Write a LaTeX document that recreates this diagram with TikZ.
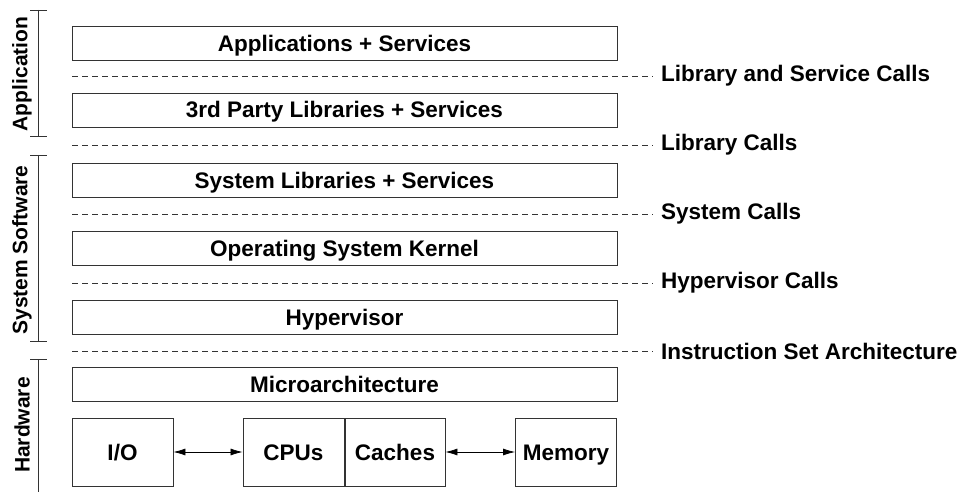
\documentclass[tikz,border=0pt]{standalone}
\usepackage{fontspec}
\setmainfont{Liberation Sans}
\usetikzlibrary{arrows.meta}
\begin{document}
\begin{tikzpicture}[x=1pt,y=-1pt,
  box/.style={draw=black!80,line width=0.9pt,minimum height=34pt,inner sep=0pt,text height=16pt,text depth=0pt,font=\bfseries\fontsize{22.5}{26}\selectfont},
  wide/.style={box,minimum width=545pt},
  small/.style={box,minimum width=101pt,minimum height=68pt},
  sep/.style={draw=black!80,dash pattern=on 6pt off 4pt,line width=0.6pt},
  lbl/.style={anchor=west,inner sep=0pt,font=\bfseries\fontsize{22.5}{26}\selectfont},
  side/.style={rotate=90,font=\bfseries\fontsize{21}{24}\selectfont,inner sep=0pt},
  brk/.style={draw=black!80,line width=0.7pt},
  biarr/.style={{Latex[length=12pt,width=7pt]}-{Latex[length=12pt,width=7pt]},line width=0.7pt}]
\useasboundingbox (0,0) rectangle (961,492);
\node[wide] (app) at (344.5,43.5) {Applications + Services};
\node[wide] (lib3) at (344.5,110) {3rd Party Libraries + Services};
\node[wide] (syslib) at (344.5,180) {System Libraries + Services};
\node[wide] (os) at (344.5,248) {Operating System Kernel};
\node[wide] (hyp) at (344.5,317) {Hypervisor};
\node[wide] (micro) at (344.5,384.5) {Microarchitecture};
\node[small] (io) at (122.5,452) {I/O};
\node[small] (cpu) at (293.5,452) {CPUs};
\node[small,minimum width=100pt] (cache) at (395,452) {Caches};
\node[small] (mem) at (566,452) {Memory};
\draw[biarr] (io.east) -- (cpu.west);
\draw[biarr] (cache.east) -- (mem.west);
% dashed separators
\foreach \y/\t/\n in {76/Library and Service Calls/l1,145/Library Calls/l2,214/System Calls/l3,283/Hypervisor Calls/l4,351/Instruction Set Architecture/l5}{
  \coordinate (s\n) at (72,\y);
  \node[lbl] (\n) at (661,\y) {\t};
  \draw[sep] (s\n) -- ([xshift=-8pt]\n.west);
}
% side brackets
\coordinate (a1) at (38,10); \coordinate (a2) at (38,136);
\coordinate (b1) at (38,155); \coordinate (b2) at (38,341);
\coordinate (c1) at (38,359); \coordinate (c2) at (38,492);
\draw[brk] (a1) -- (a2);
\draw[brk] ([xshift=-8pt]a1) -- ([xshift=9pt]a1);
\draw[brk] ([xshift=-8pt]a2) -- ([xshift=9pt]a2);
\draw[brk] (b1) -- (b2);
\draw[brk] ([xshift=-8pt]b1) -- ([xshift=9pt]b1);
\draw[brk] ([xshift=-8pt]b2) -- ([xshift=9pt]b2);
\draw[brk] (c1) -- (c2);
\draw[brk] ([xshift=-8pt]c1) -- ([xshift=9pt]c1);
\node[side] (sa) at (22,74) {Application};
\node[side] (sb) at (22,250) {System Software};
\node[side] (sc) at (22,425) {Hardware};
\end{tikzpicture}
\end{document}
